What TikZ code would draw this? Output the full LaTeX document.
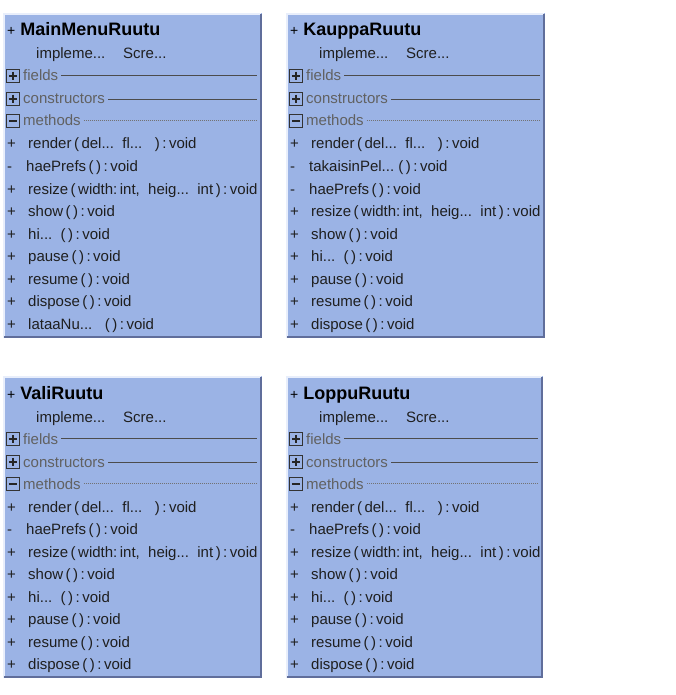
\documentclass[tikz,border=0pt]{standalone}
\usepackage{fontspec}
\setmainfont{Liberation Sans}
\definecolor{ruutusini}{RGB}{155,179,229}
\definecolor{ruutuvalo}{RGB}{232,238,251}
\definecolor{ruutuvarjo}{RGB}{96,110,155}

\tikzset{
  ruutu/.style={fill=ruutusini},
  valo/.style={draw=ruutuvalo, line width=2pt},
  varjo/.style={draw=ruutuvarjo, line width=2.5pt},
  otsikko/.style={anchor=base west, inner sep=0pt, text=black,
    font=\fontsize{18}{20}\selectfont\bfseries},
  rivi/.style={anchor=base west, inner sep=0pt, text=black!88,
    font=\fontsize{15}{18}\selectfont},
  osio/.style={anchor=base west, inner sep=0pt, text=black!62,
    font=\fontsize{15}{18}\selectfont},
  nappi/.style={draw=black!80, line width=1pt, minimum size=12.5pt, inner sep=0pt},
  merkki/.style={draw=black!85, line width=1.2pt},
  erotin/.style={draw=black!70, line width=1pt},
  pisteet/.style={draw=black!55, line width=0.7pt, dash pattern=on 0.8pt off 1.2pt},
}

% #1 nimi, #2 x, #3 y, #4 leveys, #5 korkeus, #6 otsikko, #7 metodit
\newcommand{\ruutu}[7]{
  \fill[ruutu] (#2,#3) rectangle ++(#4,#5);
  \draw[valo] (#2+1,#3+#5) -- (#2+1,#3+1) -- (#2+#4-1,#3+1);
  \draw[varjo] (#2+#4-1.2,#3+1) -- (#2+#4-1.2,#3+#5-1.2) -- (#2+1,#3+#5-1.2);
  \coordinate (#1-reuna) at (#2+#4-5,#3);
  \node[otsikko] (#1-nimi) at (#2+4,#3+23) {{\fontsize{14}{14}\mdseries +}\ #6};
  \node[rivi] (#1-impl) at (#2+33,#3+46) {impleme...};
  \node[rivi] (#1-scre) at (#2+120,#3+46) {Scre...};
  \foreach \osa/\rivi/\auki in {fields/63/1, constructors/86/1, methods/108/0} {
    \node[nappi] (#1-\osa-nappi) at (#2+10,#3+\rivi) {};
    \draw[merkki] ([xshift=2.5pt]#1-\osa-nappi.west) -- ([xshift=-2.5pt]#1-\osa-nappi.east);
    \ifnum\auki=1
      \draw[merkki] ([yshift=-2.5pt]#1-\osa-nappi.north) -- ([yshift=2.5pt]#1-\osa-nappi.south);
    \fi
    \node[osio] (#1-\osa) at (#2+20,#3+\rivi+5) {\osa};
    \ifnum\auki=1
      \draw[erotin] ([xshift=3pt]#1-\osa.east) -- (#1-\osa.east -| #1-reuna);
    \else
      \draw[pisteet] ([xshift=3pt]#1-\osa.east) -- (#1-\osa.east -| #1-reuna);
    \fi
  }
  \foreach \nakyvyys/\teksti [count=\i from 0] in {#7} {
    \node[rivi] (#1-v\i) at (#2+4,#3+136+22.5*\i) {\nakyvyys};
    \if\nakyvyys-
      \node[rivi] (#1-m\i) at (#2+23,#3+136+22.5*\i) {\teksti};
    \else
      \node[rivi] (#1-m\i) at (#2+25,#3+136+22.5*\i) {\teksti};
    \fi
  }
}

\begin{document}
\begin{tikzpicture}[x=1pt, y=-1pt]
  \useasboundingbox[fill=white] (0,0) rectangle (675,695);

  \ruutu{mainmenu}{3}{13}{259}{325}{MainMenuRuutu}{
    +/{render\,(\,del...\ \ fl...\ \ \ )\,:\,void},
    -/{haePrefs\,(\,)\,:\,void},
    +/{resize\,(\,width:\,int,\ \ heig...\ \ int\,)\,:\,void},
    +/{show\,(\,)\,:\,void},
    +/{hi...\ \ (\,)\,:\,void},
    +/{pause\,(\,)\,:\,void},
    +/{resume\,(\,)\,:\,void},
    +/{dispose\,(\,)\,:\,void},
    +/{lataaNu...\ \ \ (\,)\,:\,void}}

  \ruutu{kauppa}{286}{13}{259}{325}{KauppaRuutu}{
    +/{render\,(\,del...\ \ fl...\ \ \ )\,:\,void},
    -/{takaisinPel...\ (\,)\,:\,void},
    -/{haePrefs\,(\,)\,:\,void},
    +/{resize\,(\,width:\,int,\ \ heig...\ \ int\,)\,:\,void},
    +/{show\,(\,)\,:\,void},
    +/{hi...\ \ (\,)\,:\,void},
    +/{pause\,(\,)\,:\,void},
    +/{resume\,(\,)\,:\,void},
    +/{dispose\,(\,)\,:\,void}}

  \ruutu{vali}{3}{376}{259}{302}{ValiRuutu}{
    +/{render\,(\,del...\ \ fl...\ \ \ )\,:\,void},
    -/{haePrefs\,(\,)\,:\,void},
    +/{resize\,(\,width:\,int,\ \ heig...\ \ int\,)\,:\,void},
    +/{show\,(\,)\,:\,void},
    +/{hi...\ \ (\,)\,:\,void},
    +/{pause\,(\,)\,:\,void},
    +/{resume\,(\,)\,:\,void},
    +/{dispose\,(\,)\,:\,void}}

  \ruutu{loppu}{286}{376}{257}{302}{LoppuRuutu}{
    +/{render\,(\,del...\ \ fl...\ \ \ )\,:\,void},
    -/{haePrefs\,(\,)\,:\,void},
    +/{resize\,(\,width:\,int,\ \ heig...\ \ int\,)\,:\,void},
    +/{show\,(\,)\,:\,void},
    +/{hi...\ \ (\,)\,:\,void},
    +/{pause\,(\,)\,:\,void},
    +/{resume\,(\,)\,:\,void},
    +/{dispose\,(\,)\,:\,void}}
\end{tikzpicture}
\end{document}
